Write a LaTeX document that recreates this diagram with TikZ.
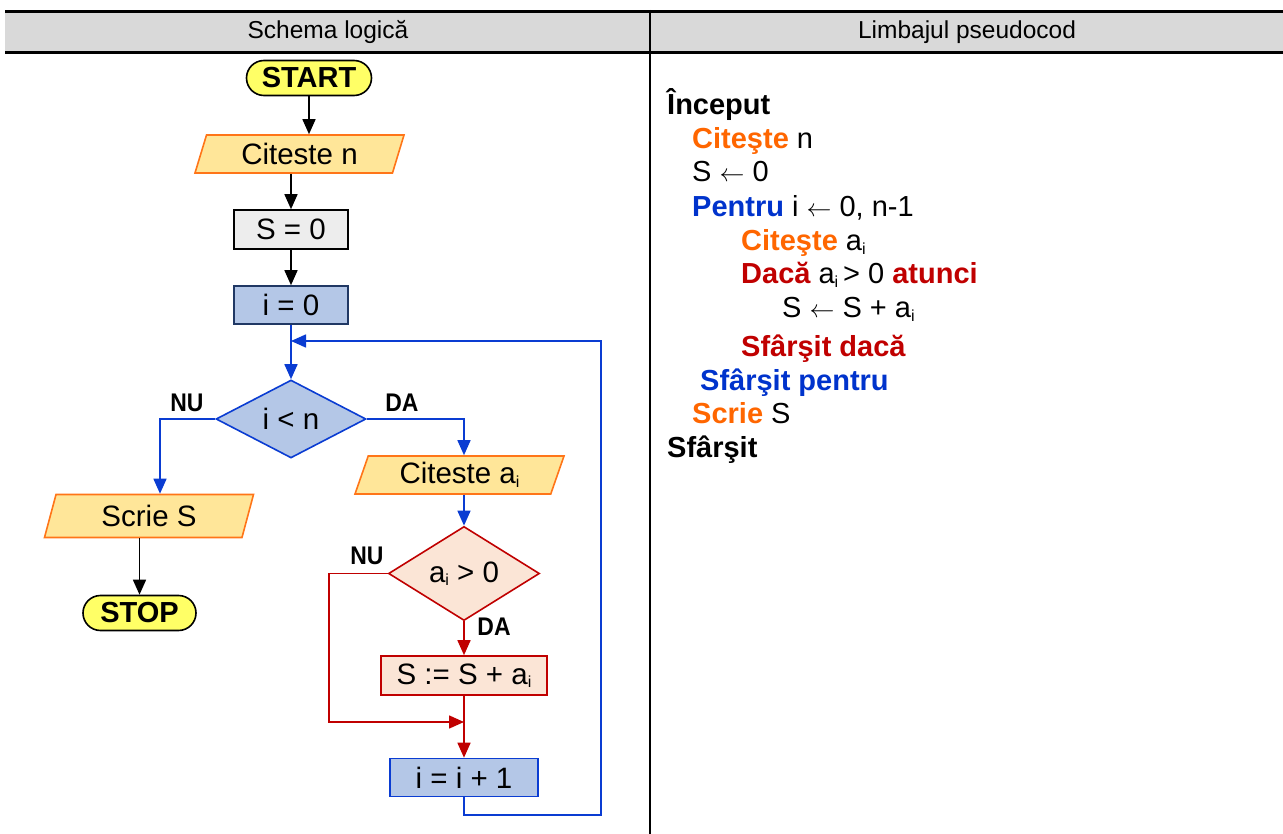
\documentclass[tikz,border=0pt]{standalone}
\usepackage{fontspec}
\usepackage{graphicx}
\setmainfont{Liberation Sans}
\newfontfamily\lblfont[FakeStretch=0.9]{Liberation Sans}
\usetikzlibrary{shapes.geometric,shapes.misc,arrows.meta,calc}

\definecolor{hdrgray}{HTML}{D9D9D9}
\definecolor{termyellow}{HTML}{FFFF66}
\definecolor{iofill}{HTML}{FFE699}
\definecolor{ioline}{HTML}{FF7518}
\definecolor{procgray}{HTML}{EDEDED}
\definecolor{bluefill}{HTML}{B4C7E7}
\definecolor{navy}{HTML}{203864}
\definecolor{flowblue}{HTML}{0A3CD2}
\definecolor{flowred}{HTML}{C00000}
\definecolor{redfill}{HTML}{FBE5D6}
\definecolor{kworange}{HTML}{FF6600}
\definecolor{kwblue}{HTML}{0033CC}
\definecolor{kwred}{HTML}{C00000}

% small lowered index letter
\newcommand\subi{\raisebox{-0.12em}{\fontsize{16}{16}\selectfont i}}
% assignment arrow
\newcommand\getsarrow{\ensuremath{\leftarrow}}

\begin{document}
\begin{tikzpicture}[x=1pt,y=-1pt,
  txt/.style={font=\fontsize{29.5}{34}\selectfont},
  term/.style={rounded rectangle, draw=black, fill=termyellow, line width=1.6pt,
    inner sep=0pt, font=\bfseries\fontsize{29}{34}\selectfont},
  io/.style={trapezium, trapezium left angle=62, trapezium right angle=118,
    trapezium stretches body, draw=ioline, fill=iofill, line width=1.6pt,
    inner sep=0pt, minimum width=209pt, txt},
  proc/.style={rectangle, inner sep=0pt, line width=1.6pt, txt},
  dec/.style={diamond, inner sep=0pt, line width=1.6pt, txt},
  lbl/.style={font=\lblfont\bfseries\fontsize{25.5}{28}\selectfont},
  arr/.style={line width=1.6pt, -{Triangle[width=13pt,length=15pt]}},
  code/.style={anchor=base west, inner sep=0pt, font=\fontsize{29}{34}\selectfont},
  hdr/.style={font=\fontsize{24.5}{28}\selectfont}
]
\useasboundingbox (0,0) rectangle (1283,834);

% table header and column rule
\fill[hdrgray] (5,11.5) rectangle (1283,52.5);
\draw[line width=3pt] (5,11.5) -- (1283,11.5);
\draw[line width=3pt] (5,52.5) -- (1283,52.5);
\draw[line width=2.5pt] (650,10) -- (650,834);
\node[hdr] (h1) at (328,32) {Schema logică};
\node[hdr] (h2) at (967,32) {Limbajul pseudocod};

% flowchart nodes
\node[term, minimum width=125pt, minimum height=35pt] (start) at (309,78) {START};
\node[io, minimum height=38pt] (cin) at (299.5,154) {Citeste n};
\node[proc, draw=black, fill=procgray, minimum width=114pt, minimum height=39pt] (s0) at (291,229.5) {S = 0};
\node[proc, draw=navy, fill=bluefill, minimum width=114pt, minimum height=38pt] (i0) at (291,305) {i = 0};
\node[dec, draw=flowblue, fill=bluefill, minimum width=150pt, minimum height=76pt] (cond) at (291,419) {i < n};
\node[io, minimum height=38pt] (cai) at (459.5,475) {Citeste a\subi};
\node[io, minimum height=43pt] (scrie) at (149,516) {Scrie S};
\node[term, minimum width=113pt, minimum height=35pt] (stop) at (139.5,613) {STOP};
\node[dec, draw=flowred, fill=redfill, minimum width=151pt, minimum height=75pt] (pos) at (464,573.5) {a\subi{} > 0};
\node[proc, draw=flowred, fill=redfill, minimum width=166pt, minimum height=39pt] (add) at (464,675.5) {S := S + a\subi};
\node[proc, draw=flowblue, fill=bluefill, minimum width=148pt, minimum height=38pt] (inc) at (464,777.5) {i = i + 1};

% branch labels
\node[lbl] (nu1) at (187,403) {NU};
\node[lbl] (da1) at (402,403) {DA};
\node[lbl] (nu2) at (367,556) {NU};
\node[lbl] (da2) at (494,627) {DA};

% helper points for bends
\coordinate (join) at (291,341);
\coordinate (loopTR) at (601,341);
\coordinate (loopBR) at (601,815);
\coordinate (leftX) at (160,0);
\coordinate (nuX) at (329,0);
\coordinate (merge) at (464,722);

% connectors
\draw[arr] (start.south) -- (start.south |- cin.north);
\draw[arr] (cin.south -| s0.north) -- (s0.north);
\draw[arr] (s0.south) -- (i0.north);
\draw[arr, flowblue] (i0.south) -- (cond.north);
\draw[arr, flowblue] (inc.south) |- (loopBR) -- (loopTR) -- (join);
\draw[arr, flowblue] (cond.west) -| (leftX |- scrie.north);
\draw[arr, flowblue] (cond.east) -| (pos.north |- cai.north);
\draw[arr] (scrie.south -| stop.north) -- (stop.north);
\draw[arr, flowblue] (cai.south -| pos.north) -- (pos.north);
\draw[arr, flowred] (pos.south) -- (add.north);
\draw[arr, flowred] (pos.west) -| (nuX |- merge) -- (merge);
\draw[arr, flowred] (add.south) -- (inc.north);

% pseudocode
\node[code] (p1) at (667,115) {\bfseries Început};
\node[code] (p2) at (692,149) {\textcolor{kworange}{\bfseries Citeşte} n};
\node[code] (p3) at (692,182) {S \getsarrow{} 0};
\node[code] (p4) at (692,217) {\textcolor{kwblue}{\bfseries Pentru} i \getsarrow{} 0, n-1};
\node[code] (p5) at (741,251) {\textcolor{kworange}{\bfseries Citeşte} a\subi};
\node[code] (p6) at (741,284) {\textcolor{kwred}{\bfseries Dacă} a\subi\,> 0 \textcolor{kwred}{\bfseries atunci}};
\node[code] (p7) at (782,318) {S \getsarrow{} S + a\subi};
\node[code] (p8) at (741,356) {\textcolor{kwred}{\bfseries Sfârşit dacă}};
\node[code] (p9) at (700,390) {\textcolor{kwblue}{\bfseries Sfârşit pentru}};
\node[code] (p10) at (692,423) {\textcolor{kworange}{\bfseries Scrie} S};
\node[code] (p11) at (667,457) {\bfseries Sfârşit};
\end{tikzpicture}
\end{document}
